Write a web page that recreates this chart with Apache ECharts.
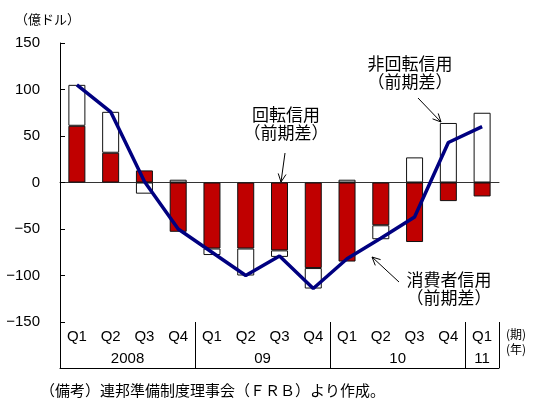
<!DOCTYPE html>
<html>
<head>
<meta charset="utf-8">
<script src="https://cdn.jsdelivr.net/npm/echarts@6/dist/echarts.min.js"></script>
<style>
  html, body { margin: 0; padding: 0; background: #fff; }
  #chart { width: 539px; height: 408px; }
</style>
</head>
<body>
<div id="chart"></div>
<script>
// 四半期ラベル
const quarters = ['Q1', 'Q2', 'Q3', 'Q4', 'Q1', 'Q2', 'Q3', 'Q4', 'Q1', 'Q2', 'Q3', 'Q4', 'Q1']
const years = ['2008', '09', '10', '11']
const quartersPerYear = [4, 4, 4, 1]
// 回転信用（前期差）
const revolving = [61, 32, 13, -53, -71, -71, -73, -92, -85, -46, -64, -20, -15]
// 非回転信用（前期差）
const nonRevolving = [44, 44, -12, 3, -7, -29, -7, -22, 3, -15, 27, 64, 75]
// 消費者信用（前期差）
const consumerCredit = [105, 76, 1, -50, -75, -100, -79, -114, -82, -60, -37, 43, 60]

const jp = '"Noto Sans CJK JP", sans-serif'
const num = '"Liberation Sans Narrow", "Liberation Sans", Arial, sans-serif'

// 年ラベルの位置（半期単位）
const yearPos = {}
let acc = 0
years.forEach((y, i) => {
  yearPos[acc + quartersPerYear[i]] = y
  acc += quartersPerYear[i] * 2
})

const arrow = (x1, y1, x2, y2) => {
  const a = Math.atan2(y2 - y1, x2 - x1)
  const len = 9, spread = 0.45
  return [
    { type: 'line', shape: { x1, y1, x2, y2 }, style: { stroke: '#000', lineWidth: 1 } },
    { type: 'polyline', shape: { points: [
      [x2 - len * Math.cos(a - spread), y2 - len * Math.sin(a - spread)],
      [x2, y2],
      [x2 - len * Math.cos(a + spread), y2 - len * Math.sin(a + spread)]
    ] }, style: { stroke: '#000', lineWidth: 1, fill: null } }
  ]
}

const label = (text, x, y) => ({
  type: 'text',
  style: { text, x, y, align: 'center', verticalAlign: 'middle', font: '17px ' + jp, fill: '#000', lineHeight: 18 }
})

const myChart = echarts.init(document.getElementById('chart'))
myChart.setOption({
  animation: false,
  grid: [
    { left: 60, right: 40, top: 43, height: 279 },
    { left: 60, right: 40, top: 322, height: 46 }
  ],
  xAxis: [
    {
      type: 'category',
      gridIndex: 0,
      data: quarters,
      axisLine: { onZero: true, lineStyle: { color: '#333', width: 1 } },
      axisTick: { show: false },
      axisLabel: { show: false }
    },
    {
      type: 'category',
      gridIndex: 1,
      position: 'top',
      data: quarters,
      axisLine: { lineStyle: { color: '#000', width: 1 } },
      axisTick: { show: false },
      axisLabel: { inside: true, margin: 7, fontSize: 15, color: '#000', fontFamily: num },
      splitLine: { show: true, interval: (i) => i % 4 === 0, lineStyle: { color: '#000', width: 1 } }
    },
    {
      type: 'value',
      gridIndex: 1,
      position: 'bottom',
      min: 0,
      max: quarters.length * 2,
      interval: 1,
      axisLine: { show: false },
      axisTick: { show: false },
      splitLine: { show: false },
      axisLabel: {
        inside: true, margin: 2, fontSize: 15, color: '#000', fontFamily: num,
        formatter: (v) => yearPos[v] || ''
      }
    }
  ],
  yAxis: [
    {
      type: 'value',
      gridIndex: 0,
      min: -150,
      max: 150,
      interval: 50,
      axisLine: { show: true, lineStyle: { color: '#000', width: 1 } },
      axisTick: { show: true, inside: true, length: 5, lineStyle: { color: '#000' } },
      splitLine: { show: false },
      axisLabel: {
        margin: 20, fontSize: 15, color: '#000', fontFamily: num,
        formatter: (v) => String(v).replace('-', '\u2212')
      }
    },
    { type: 'value', gridIndex: 1, show: false }
  ],
  series: [
    {
      name: '回転信用',
      type: 'bar',
      stack: 'credit',
      barWidth: 17,
      itemStyle: { color: '#C00000', borderColor: '#111', borderWidth: 1 },
      data: revolving
    },
    {
      name: '非回転信用',
      type: 'bar',
      stack: 'credit',
      barWidth: 17,
      itemStyle: { color: '#fff', borderColor: '#111', borderWidth: 1 },
      data: nonRevolving
    },
    {
      name: '消費者信用',
      type: 'line',
      showSymbol: false,
      z: 5,
      lineStyle: { color: '#000080', width: 3.5 },
      data: consumerCredit
    }
  ],
  graphic: [
    { type: 'text', style: { text: '（億ドル）', x: 15, y: 19, verticalAlign: 'middle', font: '13px ' + jp, fill: '#000' } },
    { type: 'text', style: { text: '(期)\n(年)', x: 506, y: 342, verticalAlign: 'middle', font: '12px ' + jp, fill: '#000', lineHeight: 15 } },
    { type: 'text', style: { text: '（備考）連邦準備制度理事会（ＦＲＢ）より作成。', x: 40, y: 390, verticalAlign: 'middle', font: '15px ' + jp, fill: '#000' } },
    label('回転信用\n（前期差）', 286, 124),
    label('非回転信用\n（前期差）', 410, 73),
    label('消費者信用\n（前期差）', 449, 289),
    ...arrow(285, 153, 281, 182),
    ...arrow(418, 98, 441, 122),
    ...arrow(399, 282, 372, 257)
  ]
})
</script>
</body>
</html>
